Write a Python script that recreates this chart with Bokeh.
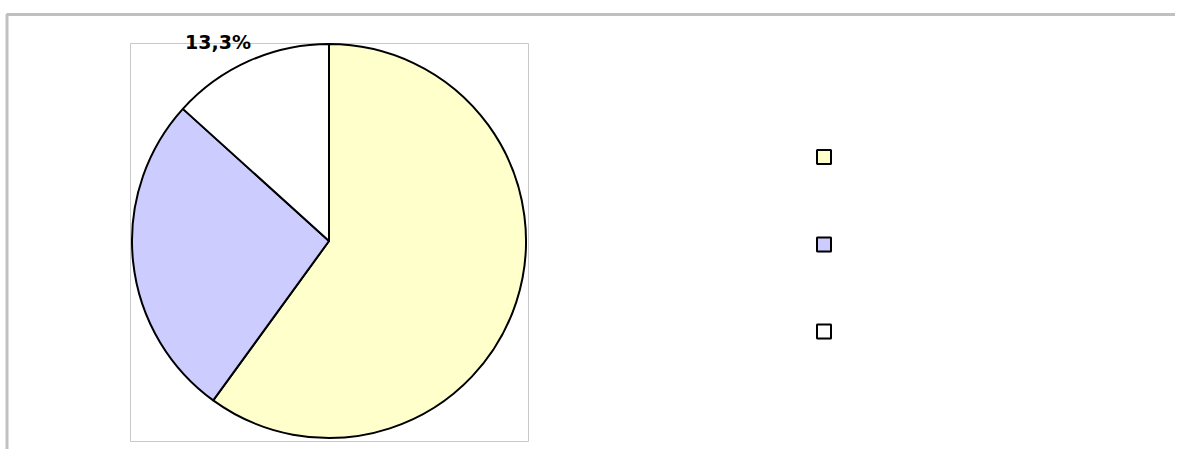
import math
from bokeh.plotting import figure
from bokeh.models import Range1d, ColumnDataSource
from bokeh.core.properties import value
from bokeh.embed import file_html
from bokeh.resources import INLINE

# ---- data ----
categories = ["A", "B", "C"]
shares = [60.0, 26.7, 13.3]
colors = ["#FFFFCC", "#CCCCFF", "#FFFFFF"]
labelled = [False, False, True]

W, H = 1175, 449
p = figure(width=W, height=H, output_backend="svg", toolbar_location=None,
           x_range=Range1d(0, W), y_range=Range1d(457 - H, 457),
           min_border=0, background_fill_color="white", border_fill_color="white")
p.axis.visible = False
p.grid.visible = False
p.outline_line_color = None

def Y(py):
    return 457 - py

# outer chart frame
p.line([6.5, 6.5, 1183], [Y(460), Y(14), Y(14)], line_color="#C0C0C0", line_width=3)

# plot area border
p.quad(left=130, right=528, top=Y(43), bottom=Y(441), fill_color=None,
       line_color="#C8C8C8", line_width=1)

# pie
cx, cy, r = 328.5, Y(240.5), 197
total = sum(shares)
starts, ends = [], []
cum = 0.0
for v in shares:
    a0 = math.pi / 2 - 2 * math.pi * cum / total
    cum += v
    a1 = math.pi / 2 - 2 * math.pi * cum / total
    starts.append(a0)
    ends.append(a1)
src = ColumnDataSource(dict(cat=categories, start=starts, end=ends, color=colors))
p.wedge(x=cx, y=cy, radius=r, start_angle="start", end_angle="end", direction="clock",
        fill_color="color", line_color="black", line_width=2, source=src)

# data label
lx, ly, lt = [], [], []
for v, show in zip(shares, labelled):
    if show:
        lt.append(f"{v:.1f}%".replace(".", ","))
        lx.append(217.5)
        ly.append(Y(41))
p.text(x=lx, y=ly, text=lt, text_font=value("DejaVu Sans"), text_font_style="bold",
       text_font_size="19px", text_align="center", text_baseline="alphabetic",
       text_color="black")

# legend markers (no labels)
leg_y = [156.5, 244, 331]
for c, yy in zip(colors, leg_y):
    p.rect(x=824.5, y=Y(yy + 1), width=14, height=14, fill_color="#D8D8D8", line_color=None)
    p.rect(x=823.5, y=Y(yy), width=14, height=14, fill_color=c, line_color="black", line_width=2)

open("out.html", "w").write(file_html(p, INLINE))
